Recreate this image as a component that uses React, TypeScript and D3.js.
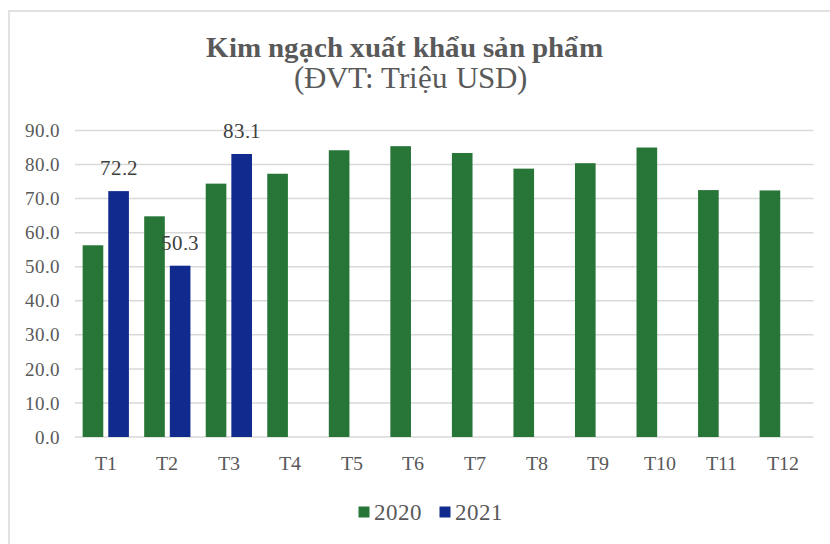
import * as d3 from "d3";

// chart values
const months = ["T1", "T2", "T3", "T4", "T5", "T6", "T7", "T8", "T9", "T10", "T11", "T12"];
const series = ["2020", "2021"];
const values2020 = [56.3, 64.8, 74.4, 77.3, 84.2, 85.4, 83.4, 78.8, 80.4, 85.0, 72.5, 72.4];
const values2021 = [72.2, 50.3, 83.1, null, null, null, null, null, null, null, null, null];
const yTicks = [0, 10, 20, 30, 40, 50, 60, 70, 80, 90];
const colors = ["#277638", "#112A8E"];

const W = 830;
const H = 544;

const css = `
@font-face { font-family: 'RefSerif'; font-weight: 400; src: local('Liberation Serif'), local('LiberationSerif'), local('Tinos'), local('Times New Roman'); }
@font-face { font-family: 'RefSerif'; font-weight: 700; src: local('Liberation Serif Bold'), local('LiberationSerif-Bold'), local('Tinos Bold'), local('Times New Roman Bold'); }
.c text { font-family: 'RefSerif', 'Liberation Serif', 'Times New Roman', serif; }
`;

const App = () => {
    const x0 = d3.scaleBand<string>().domain(months).range([75, 813.5]).padding(0);
    const x1 = d3.scaleBand<string>()
        .domain(series)
        .range([0, x0.bandwidth()])
        .paddingInner(0.195)
        .paddingOuter(0.298);
    const y = d3.scaleLinear().domain([0, 90]).range([437, 130.5]);
    const fmt = d3.format(".1f");

    const allSeries = [values2020, values2021];

    return (
        <svg className="c" width={W} height={H} style={{ position: "absolute", left: 0, top: 0 }}>
            <style>{css}</style>
            {/* chart frame */}
            <rect x={9} y={11} width={W} height={H} fill="#fff" stroke="#d9d9d9" strokeWidth={1.5} />

            <text x={404} y={57} textAnchor="middle" fontWeight="bold" fontSize={29} fill="#595959">
                Kim ngạch xuất khẩu sản phẩm
            </text>
            <text x={410} y={88} textAnchor="middle" fontSize={31} fill="#595959">
                (ĐVT: Triệu USD)
            </text>

            {/* gridlines + y ticks */}
            {yTicks.map(t => (
                <g key={t}>
                    <line x1={75} x2={813.5} y1={y(t)} y2={y(t)} stroke="#d9d9d9" strokeWidth={1.5} />
                    <text x={59.5} y={y(t)} dy="0.35em" textAnchor="end" fontSize={19} fill="#595959">
                        {fmt(t)}
                    </text>
                </g>
            ))}

            {/* bars */}
            {allSeries.map((vals, si) =>
                vals.map((v, i) =>
                    v == null ? null : (
                        <rect
                            key={`${si}-${i}`}
                            x={x0(months[i])! + x1(series[si])!}
                            y={y(v)}
                            width={x1.bandwidth()}
                            height={y(0) - y(v)}
                            fill={colors[si]}
                        />
                    )
                )
            )}

            {/* data labels for 2021 */}
            {values2021.map((v, i) =>
                v == null ? null : (
                    <text
                        key={`lbl-${i}`}
                        x={x0(months[i])! + x1("2021")! + x1.bandwidth() / 2}
                        y={y(v) - 16}
                        textAnchor="middle"
                        fontSize={21}
                        fill="#404040"
                    >
                        {fmt(v)}
                    </text>
                )
            )}

            {/* x labels */}
            {months.map(m => (
                <text key={m} x={x0(m)! + x0.bandwidth() / 2} y={469.5} textAnchor="middle" fontSize={20} fill="#595959">
                    {m}
                </text>
            ))}

            {/* legend */}
            {series.map((s, i) => (
                <g key={s} transform={`translate(${[358.5, 439.5][i]},0)`}>
                    <rect x={0} y={506.5} width={11} height={11} fill={colors[i]} />
                    <text x={15} y={520} fontSize={23} fill="#595959">
                        {s}
                    </text>
                </g>
            ))}
        </svg>
    );
};

export default App;
